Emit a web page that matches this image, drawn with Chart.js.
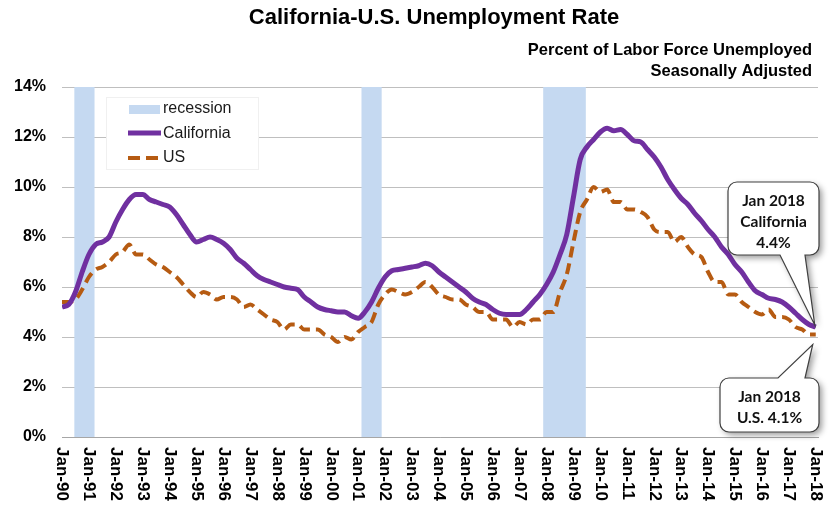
<!DOCTYPE html>
<html>
<head>
<meta charset="utf-8">
<script src="https://cdn.jsdelivr.net/npm/chart.js@4.4.1/dist/chart.umd.min.js"></script>
<style>
html, body { margin: 0; padding: 0; background: #fff; }
</style>
</head>
<body>
<canvas id="chart" width="832" height="506"></canvas>
<script>
// quarterly readings (Jan, Apr, Jul, Oct), Jan 1990 .. Jan 2018
var stepMonths = 3;
var caRate = [
    5.2, 5.3, 5.8, 6.6,    7.3, 7.7, 7.8, 8.0,    8.6, 9.1, 9.5, 9.7,    9.7, 9.5, 9.4, 9.3,
    9.2, 8.9, 8.5, 8.1,    7.8, 7.9, 8.0, 7.9,    7.75, 7.5, 7.15, 6.95, 6.7, 6.45, 6.3, 6.2,
    6.1, 6.0, 5.95, 5.9,   5.6, 5.4, 5.2, 5.1,    5.05, 5.0, 5.0, 4.85,  4.75, 5.0, 5.4, 5.95,
    6.4, 6.65, 6.7, 6.75,  6.8, 6.85, 6.95, 6.85, 6.6, 6.4, 6.2, 6.0,    5.8, 5.55, 5.4, 5.3,
    5.1, 4.95, 4.9, 4.9,   4.9, 5.1, 5.4, 5.7,    6.1, 6.6, 7.3, 8.1,    9.6, 11.1, 11.6, 11.9,
    12.2, 12.35, 12.25, 12.3, 12.1, 11.85, 11.8, 11.5, 11.2, 10.8, 10.3, 9.9, 9.55, 9.3, 8.95, 8.65,
    8.3, 8.0, 7.6, 7.3,    6.9, 6.6, 6.2, 5.85,   5.7, 5.55, 5.5, 5.4,   5.2, 4.95, 4.7, 4.5,
    4.4
];
var usRate = [
    5.4, 5.4, 5.5, 5.9,    6.4, 6.7, 6.8, 7.0,    7.3, 7.4, 7.7, 7.3,    7.3, 7.1, 6.9, 6.8,
    6.6, 6.4, 6.1, 5.8,    5.6, 5.8, 5.7, 5.5,    5.6, 5.6, 5.5, 5.2,    5.3, 5.1, 4.9, 4.7,
    4.6, 4.3, 4.5, 4.5,    4.3, 4.3, 4.3, 4.1,    4.0, 3.8, 4.0, 3.9,    4.2, 4.4, 4.6, 5.3,
    5.7, 5.9, 5.8, 5.7,    5.8, 6.0, 6.2, 6.0,    5.7, 5.6, 5.5, 5.5,    5.3, 5.2, 5.0, 5.0,
    4.7, 4.7, 4.7, 4.4,    4.6, 4.5, 4.7, 4.7,    5.0, 5.0, 5.8, 6.5,    7.8, 9.0, 9.5, 10.0,
    9.8, 9.9, 9.4, 9.4,    9.1, 9.1, 9.0, 8.8,    8.3, 8.2, 8.2, 7.8,    8.0, 7.6, 7.3, 7.2,
    6.6, 6.2, 6.2, 5.7,    5.7, 5.4, 5.2, 5.0,    4.9, 5.1, 4.8, 4.8,    4.7, 4.4, 4.3, 4.1,
    4.1
];
var tickLabels = ['Jan-90', 'Jan-91', 'Jan-92', 'Jan-93', 'Jan-94', 'Jan-95', 'Jan-96', 'Jan-97',
    'Jan-98', 'Jan-99', 'Jan-00', 'Jan-01', 'Jan-02', 'Jan-03', 'Jan-04', 'Jan-05', 'Jan-06',
    'Jan-07', 'Jan-08', 'Jan-09', 'Jan-10', 'Jan-11', 'Jan-12', 'Jan-13', 'Jan-14', 'Jan-15',
    'Jan-16', 'Jan-17', 'Jan-18'];
var recessionStart = ['1990-07', '2001-03', '2007-12'];
var recessionEnd = ['1991-03', '2001-11', '2009-06'];

var purple = '#7030A0';
var brown = '#B65B12';
var recessionColor = '#C5D9F1';
var font = '"Liberation Sans", Arial, sans-serif';

function toMonth(s) {
    var p = s.split('-');
    return (parseInt(p[0]) - 1990) * 12 + parseInt(p[1]) - 1;
}

function toPoints(values) {
    return values.map(function (v, i) { return { x: i * stepMonths, y: v }; });
}

var titlePlugin = {
    id: 'titles',
    afterDraw: function (chart) {
        var ctx = chart.ctx;
        ctx.save();
        ctx.fillStyle = '#000';
        ctx.textBaseline = 'middle';
        ctx.font = 'bold 22px ' + font;
        ctx.textAlign = 'center';
        ctx.fillText('California-U.S. Unemployment Rate', 434, 18);
        ctx.font = 'bold 16.5px ' + font;
        ctx.textAlign = 'right';
        ctx.fillText('Percent of Labor Force Unemployed', 812, 50);
        ctx.fillText('Seasonally Adjusted', 812, 71);
        ctx.restore();
    }
};

var recessionPlugin = {
    id: 'recessions',
    beforeDatasetsDraw: function (chart) {
        var ctx = chart.ctx, sx = chart.scales.x, a = chart.chartArea;
        ctx.save();
        ctx.fillStyle = recessionColor;
        for (var i = 0; i < recessionStart.length; i++) {
            var x0 = sx.getPixelForValue(toMonth(recessionStart[i]) - 0.5);
            var x1 = sx.getPixelForValue(toMonth(recessionEnd[i]) + 0.5);
            ctx.fillRect(x0, a.top, x1 - x0, a.bottom - a.top);
        }
        ctx.restore();
    }
};

var xLabelPlugin = {
    id: 'xLabels',
    afterDraw: function (chart) {
        var ctx = chart.ctx, sx = chart.scales.x, top = chart.chartArea.bottom + 10;
        ctx.save();
        ctx.font = 'bold 17px ' + font;
        ctx.fillStyle = '#000';
        ctx.textAlign = 'left';
        ctx.textBaseline = 'middle';
        sx.ticks.forEach(function (t) {
            if (t.value % 12 !== 0) return;
            var label = tickLabels[t.value / 12];
            if (!label) return;
            ctx.save();
            ctx.translate(sx.getPixelForValue(t.value), top);
            ctx.rotate(Math.PI / 2);
            ctx.fillText(label, 0, 0);
            ctx.restore();
        });
        ctx.restore();
    }
};

var legendPlugin = {
    id: 'boxLegend',
    afterDatasetsDraw: function (chart) {
        var ctx = chart.ctx;
        ctx.save();
        ctx.fillStyle = '#fff';
        ctx.fillRect(106, 97, 152, 72);
        ctx.strokeStyle = '#F0F0F0';
        ctx.lineWidth = 1;
        ctx.strokeRect(106.5, 97.5, 152, 72);

        ctx.fillStyle = recessionColor;
        ctx.fillRect(129, 105, 31, 9);

        ctx.lineWidth = 5;
        ctx.strokeStyle = purple;
        ctx.beginPath();
        ctx.moveTo(128, 133);
        ctx.lineTo(161, 133);
        ctx.stroke();

        ctx.lineWidth = 4;
        ctx.strokeStyle = brown;
        ctx.setLineDash([12, 6]);
        ctx.beginPath();
        ctx.moveTo(128, 158);
        ctx.lineTo(161, 158);
        ctx.stroke();
        ctx.setLineDash([]);

        ctx.fillStyle = '#1a1a1a';
        ctx.font = '16px ' + font;
        ctx.textBaseline = 'middle';
        ctx.fillText('recession', 163, 109);
        ctx.fillText('California', 163, 134);
        ctx.fillText('US', 163, 158);
        ctx.restore();
    }
};

function calloutPath(ctx, x, y, w, h, r, tail) {
    ctx.beginPath();
    ctx.moveTo(x + r, y);
    if (tail.side === 'top') {
        ctx.lineTo(tail.a, y);
        ctx.lineTo(tail.tipX, tail.tipY);
        ctx.lineTo(tail.b, y);
    }
    ctx.lineTo(x + w - r, y);
    ctx.arcTo(x + w, y, x + w, y + r, r);
    ctx.lineTo(x + w, y + h - r);
    ctx.arcTo(x + w, y + h, x + w - r, y + h, r);
    if (tail.side === 'bottom') {
        ctx.lineTo(tail.b, y + h);
        ctx.lineTo(tail.tipX, tail.tipY);
        ctx.lineTo(tail.a, y + h);
    }
    ctx.lineTo(x + r, y + h);
    ctx.arcTo(x, y + h, x, y + h - r, r);
    ctx.lineTo(x, y + r);
    ctx.arcTo(x, y, x + r, y, r);
    ctx.closePath();
}

function drawCallout(ctx, box, tail, lines) {
    ctx.save();
    calloutPath(ctx, box.x, box.y, box.w, box.h, 9, tail);
    ctx.shadowColor = 'rgba(0,0,0,0.4)';
    ctx.shadowBlur = 6;
    ctx.shadowOffsetX = 3;
    ctx.shadowOffsetY = 3;
    ctx.fillStyle = '#fff';
    ctx.fill();
    ctx.shadowColor = 'transparent';
    ctx.lineWidth = 1.2;
    ctx.strokeStyle = '#404040';
    ctx.stroke();
    ctx.fillStyle = '#111';
    ctx.font = 'bold 15.5px Lato, "Open Sans", sans-serif';
    ctx.textAlign = 'center';
    ctx.textBaseline = 'middle';
    lines.forEach(function (s, i) {
        ctx.fillText(s, box.x + box.w / 2, box.y + 19 + i * 21);
    });
    ctx.restore();
}

var calloutPlugin = {
    id: 'callouts',
    afterDraw: function (chart) {
        var ctx = chart.ctx, sx = chart.scales.x, sy = chart.scales.y;
        var last = caRate.length - 1;
        var px = sx.getPixelForValue(last * stepMonths);
        var caY = sy.getPixelForValue(caRate[last]);
        var usY = sy.getPixelForValue(usRate[last]);
        drawCallout(ctx, { x: 728, y: 182, w: 91, h: 73 },
            { side: 'bottom', a: 780, b: 805, tipX: px - 1, tipY: caY - 2 },
            ['Jan 2018', 'California', caRate[last].toFixed(1) + '%']);
        drawCallout(ctx, { x: 720, y: 378, w: 99, h: 54 },
            { side: 'top', a: 778, b: 805, tipX: px - 3, tipY: usY + 10 },
            ['Jan 2018', 'U.S. ' + usRate[last].toFixed(1) + '%']);
    }
};

var ctx = document.getElementById('chart').getContext('2d');
var chart = new Chart(ctx, {
    type: 'line',
    data: {
        datasets: [{
            label: 'US',
            data: toPoints(usRate),
            borderColor: brown,
            borderWidth: 4,
            borderDash: [11, 6],
            pointRadius: 0,
            cubicInterpolationMode: 'monotone',
            fill: false,
            order: 2
        }, {
            label: 'California',
            data: toPoints(caRate),
            borderColor: purple,
            borderWidth: 5,
            pointRadius: 0,
            cubicInterpolationMode: 'monotone',
            fill: false,
            order: 1
        }]
    },
    options: {
        responsive: false,
        animation: false,
        layout: { padding: { top: 87, left: 14, right: 14, bottom: 0 } },
        plugins: {
            legend: { display: false },
            title: { display: false },
            tooltip: { enabled: false }
        },
        scales: {
            x: {
                type: 'linear',
                min: 0,
                max: 337,
                grid: { display: false, drawTicks: false },
                border: { display: true, color: '#A6A6A6', width: 1 },
                ticks: { display: false, stepSize: 12, autoSkip: false, includeBounds: false },
                afterFit: function (s) { s.height = 69; }
            },
            y: {
                min: 0,
                max: 14,
                grid: { color: '#BFBFBF', lineWidth: 1, drawTicks: false },
                border: { display: false },
                ticks: {
                    stepSize: 2,
                    padding: 16,
                    color: '#000',
                    font: { family: font, size: 16, weight: 'bold' },
                    callback: function (v) { return v + '%'; }
                },
                afterFit: function (s) { s.width = 48; }
            }
        }
    },
    plugins: [recessionPlugin, legendPlugin, xLabelPlugin, titlePlugin, calloutPlugin]
});
</script>
</body>
</html>
